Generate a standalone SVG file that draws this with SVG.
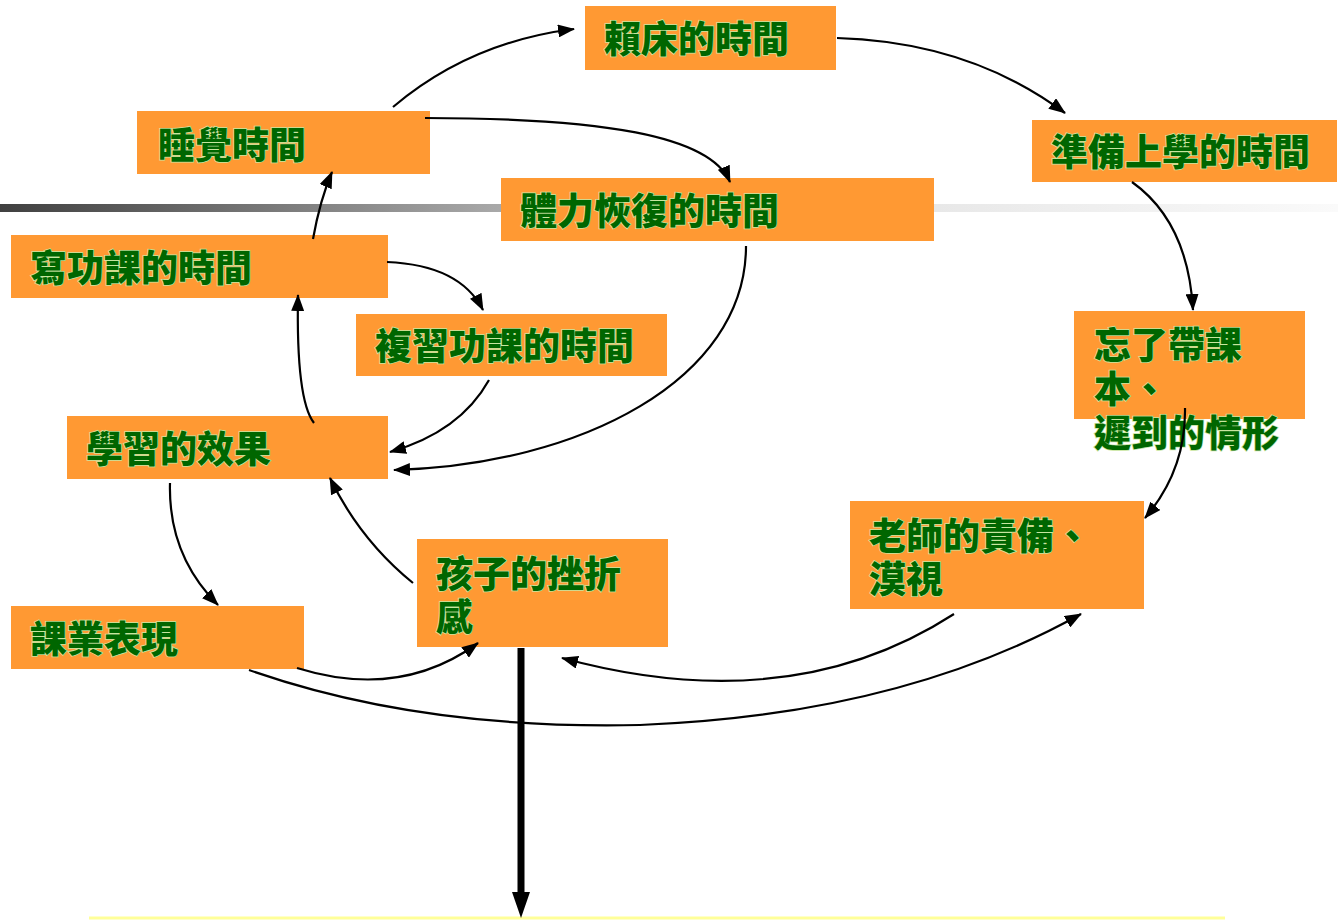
<svg xmlns="http://www.w3.org/2000/svg" width="1338" height="920" viewBox="0 0 1338 920">
<style>
.box{fill:#FF9933}
.t{font-family:"Noto Sans CJK TC","Noto Sans CJK SC",sans-serif;font-weight:900;font-size:37px;fill:#006600;stroke:#c8e6a0;stroke-width:1.5;paint-order:stroke}
.c{fill:none;stroke:#000;stroke-width:2.2;marker-end:url(#ah)}
</style>
<defs>
<linearGradient id="bar" x1="0" y1="0" x2="1" y2="0">
<stop offset="0" stop-color="#404040"/>
<stop offset="0.37" stop-color="#a8a8a8"/>
<stop offset="0.7" stop-color="#e8e8e8"/>
<stop offset="1" stop-color="#fafafa"/>
</linearGradient>
<marker id="ah" viewBox="0 0 17 13" refX="16" refY="6.5" markerWidth="17" markerHeight="13" markerUnits="userSpaceOnUse" orient="auto">
<path d="M0,0 L17,6.5 L0,13 Z" fill="#000"/>
</marker>
</defs>
<rect x="0" y="204" width="1338" height="8" fill="url(#bar)"/>
<line x1="89" y1="918" x2="1225" y2="918" stroke="#ffff99" stroke-width="3"/>
<g id="n1"><rect class="box" x="585" y="6" width="251" height="64"/><text class="t" x="604" y="53">賴床的時間</text></g>
<g id="n2"><rect class="box" x="137" y="111" width="293" height="63"/><text class="t" x="158" y="159">睡覺時間</text></g>
<g id="n3"><rect class="box" x="1032" y="120" width="305" height="62"/><text class="t" x="1051" y="166">準備上學的時間</text></g>
<g id="n4"><rect class="box" x="501" y="178" width="433" height="63"/><text class="t" x="520" y="225">體力恢復的時間</text></g>
<g id="n5"><rect class="box" x="11" y="235" width="377" height="63"/><text class="t" x="30" y="282">寫功課的時間</text></g>
<g id="n6"><rect class="box" x="356" y="314" width="311" height="62"/><text class="t" x="375" y="360">複習功課的時間</text></g>
<g id="n7"><rect class="box" x="1074" y="311" width="231" height="108"/><text class="t" x="1094" y="359">忘了帶課<tspan x="1094" y="403">本、</tspan><tspan x="1094" y="447">遲到的情形</tspan></text></g>
<g id="n8"><rect class="box" x="67" y="416" width="321" height="63"/><text class="t" x="86" y="463">學習的效果</text></g>
<g id="n9"><rect class="box" x="850" y="501" width="294" height="108"/><text class="t" x="869" y="550">老師的責備、<tspan x="869" y="593">漠視</tspan></text></g>
<g id="n10"><rect class="box" x="417" y="539" width="251" height="108"/><text class="t" x="436" y="588">孩子的挫折<tspan x="436" y="631">感</tspan></text></g>
<g id="n11"><rect class="box" x="11" y="606" width="293" height="63"/><text class="t" x="30" y="653">課業表現</text></g>
<g id="connectors">
<path class="c" d="M393,107 Q470,42 574,29"/>
<path class="c" d="M837,38 Q970,42 1065,113"/>
<path class="c" d="M1132,182 Q1188,222 1193,310"/>
<path class="c" d="M1185,408 Q1186,470 1145,518"/>
<path class="c" d="M954,614 Q790,720 562,658"/>
<path class="c" d="M249,670 Q420,730 640,725 Q900,715 1081,614"/>
<path class="c" d="M297,668 Q400,700 478,643"/>
<path class="c" d="M413,583 Q360,540 330,478"/>
<path class="c" d="M170,483 Q168,555 218,605"/>
<path class="c" d="M314,423 Q296,400 298,295"/>
<path class="c" d="M313,239 Q320,200 332,172"/>
<path class="c" d="M387,262 Q460,265 483,310"/>
<path class="c" d="M489,380 Q460,432 390,452"/>
<path class="c" d="M746,246 C746,380 580,465 394,470"/>
<path class="c" d="M425,118 C600,118 710,135 730,182"/>
<line x1="521" y1="648" x2="521" y2="895" stroke="#000" stroke-width="7"/>
<path d="M512,892 L530,892 L521,918 Z" fill="#000"/>
</g>
</svg>
